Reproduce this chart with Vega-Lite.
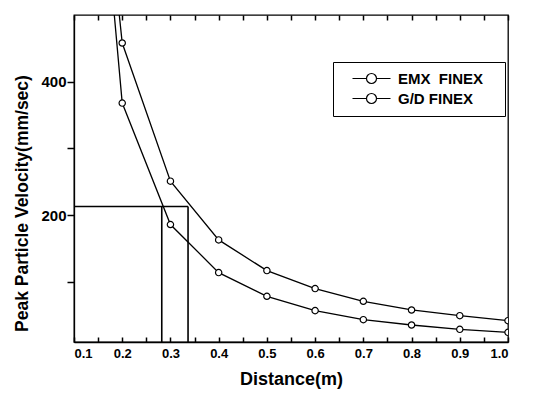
{
  "$schema": "https://vega.github.io/schema/vega-lite/v6.json",
  "width": 434,
  "height": 327,
  "autosize": "none",
  "padding": {"left": 74, "top": 15, "right": 27, "bottom": 56},
  "background": "white",
  "config": {
    "font": "Liberation Sans",
    "view": {"stroke": "black", "strokeWidth": 1.3},
    "axis": {
      "domainColor": "black", "domainWidth": 1.3, "ticks": true, "tickColor": "black", "tickWidth": 1.5,
      "labelColor": "black", "labelFont": "Liberation Sans", "labelFontWeight": "bold",
      "titleColor": "black", "titleFont": "Liberation Sans", "titleFontWeight": "bold",
      "grid": false
    }
  },
  "datasets": {
    "refs": [
      {"x": 0.1, "x2": 0.3365, "y": 213, "y2": 213},
      {"x": 0.282, "x2": 0.282, "y": 213, "y2": 10},
      {"x": 0.3365, "x2": 0.3365, "y": 213, "y2": 10}
    ],
    "series": [
      {"d": 0.15, "v": 804, "s": "EMX  FINEX"},
      {"d": 0.2, "v": 458, "s": "EMX  FINEX"},
      {"d": 0.3, "v": 251, "s": "EMX  FINEX"},
      {"d": 0.4, "v": 163, "s": "EMX  FINEX"},
      {"d": 0.5, "v": 117, "s": "EMX  FINEX"},
      {"d": 0.6, "v": 90, "s": "EMX  FINEX"},
      {"d": 0.7, "v": 71, "s": "EMX  FINEX"},
      {"d": 0.8, "v": 58, "s": "EMX  FINEX"},
      {"d": 0.9, "v": 49.5, "s": "EMX  FINEX"},
      {"d": 1.0, "v": 42, "s": "EMX  FINEX"},
      {"d": 0.15, "v": 770, "s": "G/D FINEX"},
      {"d": 0.2, "v": 368, "s": "G/D FINEX"},
      {"d": 0.3, "v": 186, "s": "G/D FINEX"},
      {"d": 0.4, "v": 114, "s": "G/D FINEX"},
      {"d": 0.5, "v": 78.5, "s": "G/D FINEX"},
      {"d": 0.6, "v": 57, "s": "G/D FINEX"},
      {"d": 0.7, "v": 43.5, "s": "G/D FINEX"},
      {"d": 0.8, "v": 35.5, "s": "G/D FINEX"},
      {"d": 0.9, "v": 29, "s": "G/D FINEX"},
      {"d": 1.0, "v": 24.5, "s": "G/D FINEX"}
    ]
  },
  "resolve": {"axis": {"x": "independent", "y": "independent"}},
  "layer": [
    {
      "data": {"name": "refs"},
      "mark": {"type": "rule", "color": "black", "strokeWidth": 1.6},
      "encoding": {
        "x": {"field": "x", "type": "quantitative", "scale": {"domain": [0.1, 1.0], "nice": false, "zero": false},
          "axis": {"orient": "top", "values": [0.1,0.15,0.2,0.25,0.3,0.35,0.4,0.45,0.5,0.55,0.6,0.65,0.7,0.75,0.8,0.85,0.9,0.95,1.0], "labels": false, "ticks": true, "tickSize": -5, "title": null, "domain": false}},
        "x2": {"field": "x2"},
        "y": {"field": "y", "type": "quantitative", "scale": {"domain": [10, 500], "nice": false, "zero": false},
          "axis": {"values": [100, 200, 300, 400], "labelExpr": "datum.value % 200 === 0 ? datum.label : ''", "ticks": true, "tickSize": 7, "labelPadding": 1, "labelFontSize": 15, "title": "Peak Particle Velocity(mm/sec)", "titleFontSize": 17.5, "titlePadding": 9, "titleY": 188}},
        "y2": {"field": "y2"}
      }
    },
    {
      "data": {"name": "series"},
      "mark": {"type": "line", "color": "black", "strokeWidth": 1.3, "clip": true},
      "encoding": {
        "x": {"field": "d", "type": "quantitative",
          "axis": {"orient": "bottom", "values": [0.1,0.15,0.2,0.25,0.3,0.35,0.4,0.45,0.5,0.55,0.6,0.65,0.7,0.75,0.8,0.85,0.9,0.95,1.0],
            "labelExpr": "abs(datum.value*10 - round(datum.value*10)) < 0.01 ? format(datum.value, '.1f') : ''",
            "ticks": true, "tickSize": -5, "labelPadding": 10, "labelFontSize": 13, "title": "Distance(m)", "titleFontSize": 18, "titlePadding": 10}},
        "y": {"field": "v", "type": "quantitative", "axis": null},
        "color": {"field": "s", "type": "nominal",
          "scale": {"domain": ["EMX  FINEX", "G/D FINEX"], "range": ["black", "black"]},
          "legend": {
            "orient": "none", "legendX": 259, "legendY": 47, "title": null,
            "symbolType": "M-1,0L1.8,0M3.8,0L6.6,0M3.8,0A1,1,0,1,1,1.8,0A1,1,0,1,1,3.8,0ZM27.2,0",
            "symbolSize": 100, "symbolStrokeWidth": 1.2, "symbolStrokeColor": "black", "symbolFillColor": "white",
            "symbolOffset": 8,
            "labelFont": "Liberation Sans", "labelFontWeight": "bold", "labelFontSize": 15, "labelColor": "black",
            "labelExpr": "replace(datum.label, '  ', '\u00a0\u00a0')",
            "labelOffset": 33, "rowPadding": 4, "strokeColor": "black", "padding": 9, "fillColor": "white"
          }}
      }
    },
    {
      "data": {"name": "series"},
      "mark": {"type": "point", "shape": "circle", "filled": true, "fill": "white", "stroke": "black", "strokeWidth": 1.2, "size": 40, "opacity": 1, "clip": true},
      "encoding": {
        "x": {"field": "d", "type": "quantitative", "axis": null},
        "y": {"field": "v", "type": "quantitative", "axis": null}
      }
    }
  ]
}
